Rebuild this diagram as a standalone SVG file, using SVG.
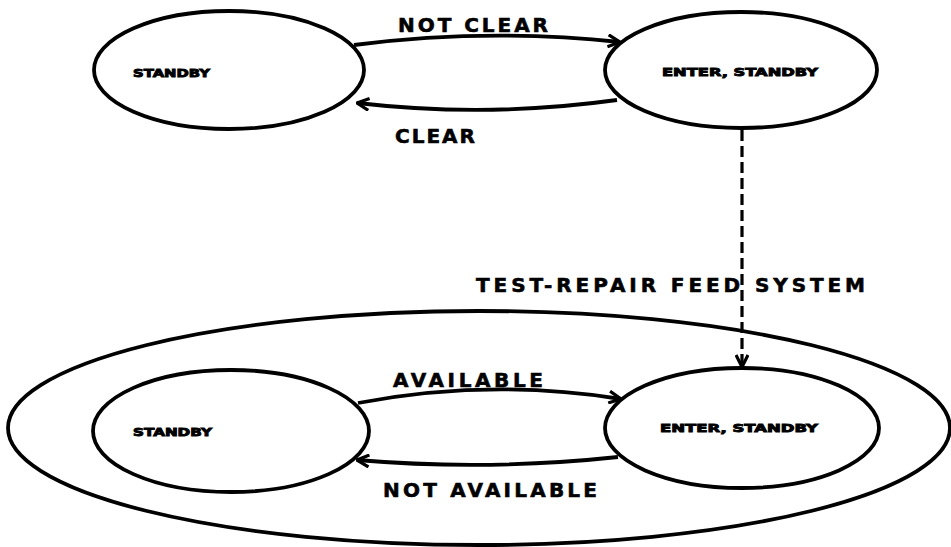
<svg xmlns="http://www.w3.org/2000/svg" width="951" height="547" viewBox="0 0 951 547">
<style>
.shape{fill:none;stroke:#000;stroke-width:3.8}
.conn{fill:none;stroke:#000;stroke-width:3.8}
.dash{fill:none;stroke:#000;stroke-width:3.2;stroke-dasharray:11 5}
.lbl{font-family:"DejaVu Sans","Liberation Sans",Arial,sans-serif;font-weight:bold;font-size:20px;fill:#000;stroke:#000;stroke-width:0.6}
.nlbl{font-family:"DejaVu Sans","Liberation Sans",Arial,sans-serif;font-weight:bold;font-size:11px;fill:#000;stroke:#000;stroke-width:0.9}
</style>
<defs>
<marker id="arr" viewBox="0 0 14 14" refX="13" refY="7" markerWidth="14" markerHeight="14" markerUnits="userSpaceOnUse" orient="auto">
<path d="M1,1 L13,7 L1,13" fill="none" stroke="#000" stroke-width="3.2"/>
</marker>
</defs>
<rect width="951" height="547" fill="#fff"/>
<g id="test-repair-feed-system">
<ellipse class="shape" cx="479" cy="428" rx="471" ry="117"/>
<text class="lbl" x="476" y="292" textLength="389" lengthAdjust="spacing">TEST-REPAIR FEED SYSTEM</text>
</g>
<g id="standby-top">
<ellipse class="shape" cx="229" cy="70" rx="135" ry="59"/>
<text class="nlbl" x="133" y="77" textLength="77" lengthAdjust="spacingAndGlyphs">STANDBY</text>
</g>
<g id="enter-standby-top">
<ellipse class="shape" cx="741" cy="70" rx="136" ry="58"/>
<text class="nlbl" x="662" y="76" textLength="156" lengthAdjust="spacingAndGlyphs">ENTER, STANDBY</text>
</g>
<g id="standby-bottom">
<ellipse class="shape" cx="231" cy="431" rx="138" ry="61"/>
<text class="nlbl" x="133" y="436" textLength="79" lengthAdjust="spacingAndGlyphs">STANDBY</text>
</g>
<g id="enter-standby-bottom">
<ellipse class="shape" cx="742" cy="428" rx="137" ry="60"/>
<text class="nlbl" x="660" y="432" textLength="158" lengthAdjust="spacingAndGlyphs">ENTER, STANDBY</text>
</g>
<g id="connectors">
<path class="conn" d="M354,45 Q487,28 620,42" marker-end="url(#arr)"/>
<text class="lbl" x="398" y="32" textLength="150" lengthAdjust="spacing">NOT CLEAR</text>
<path class="conn" d="M617,100 Q487,118 357,103" marker-end="url(#arr)"/>
<text class="lbl" x="395" y="143" textLength="80" lengthAdjust="spacing">CLEAR</text>
<path class="dash" d="M742,130 L742,367" marker-end="url(#arr)"/>
<path class="conn" d="M358,403 Q490,378 621,399" marker-end="url(#arr)"/>
<text class="lbl" x="393" y="387" textLength="150" lengthAdjust="spacing">AVAILABLE</text>
<path class="conn" d="M618,457 Q487,471 357,460" marker-end="url(#arr)"/>
<text class="lbl" x="383" y="497" textLength="214" lengthAdjust="spacing">NOT AVAILABLE</text>
</g>
</svg>
